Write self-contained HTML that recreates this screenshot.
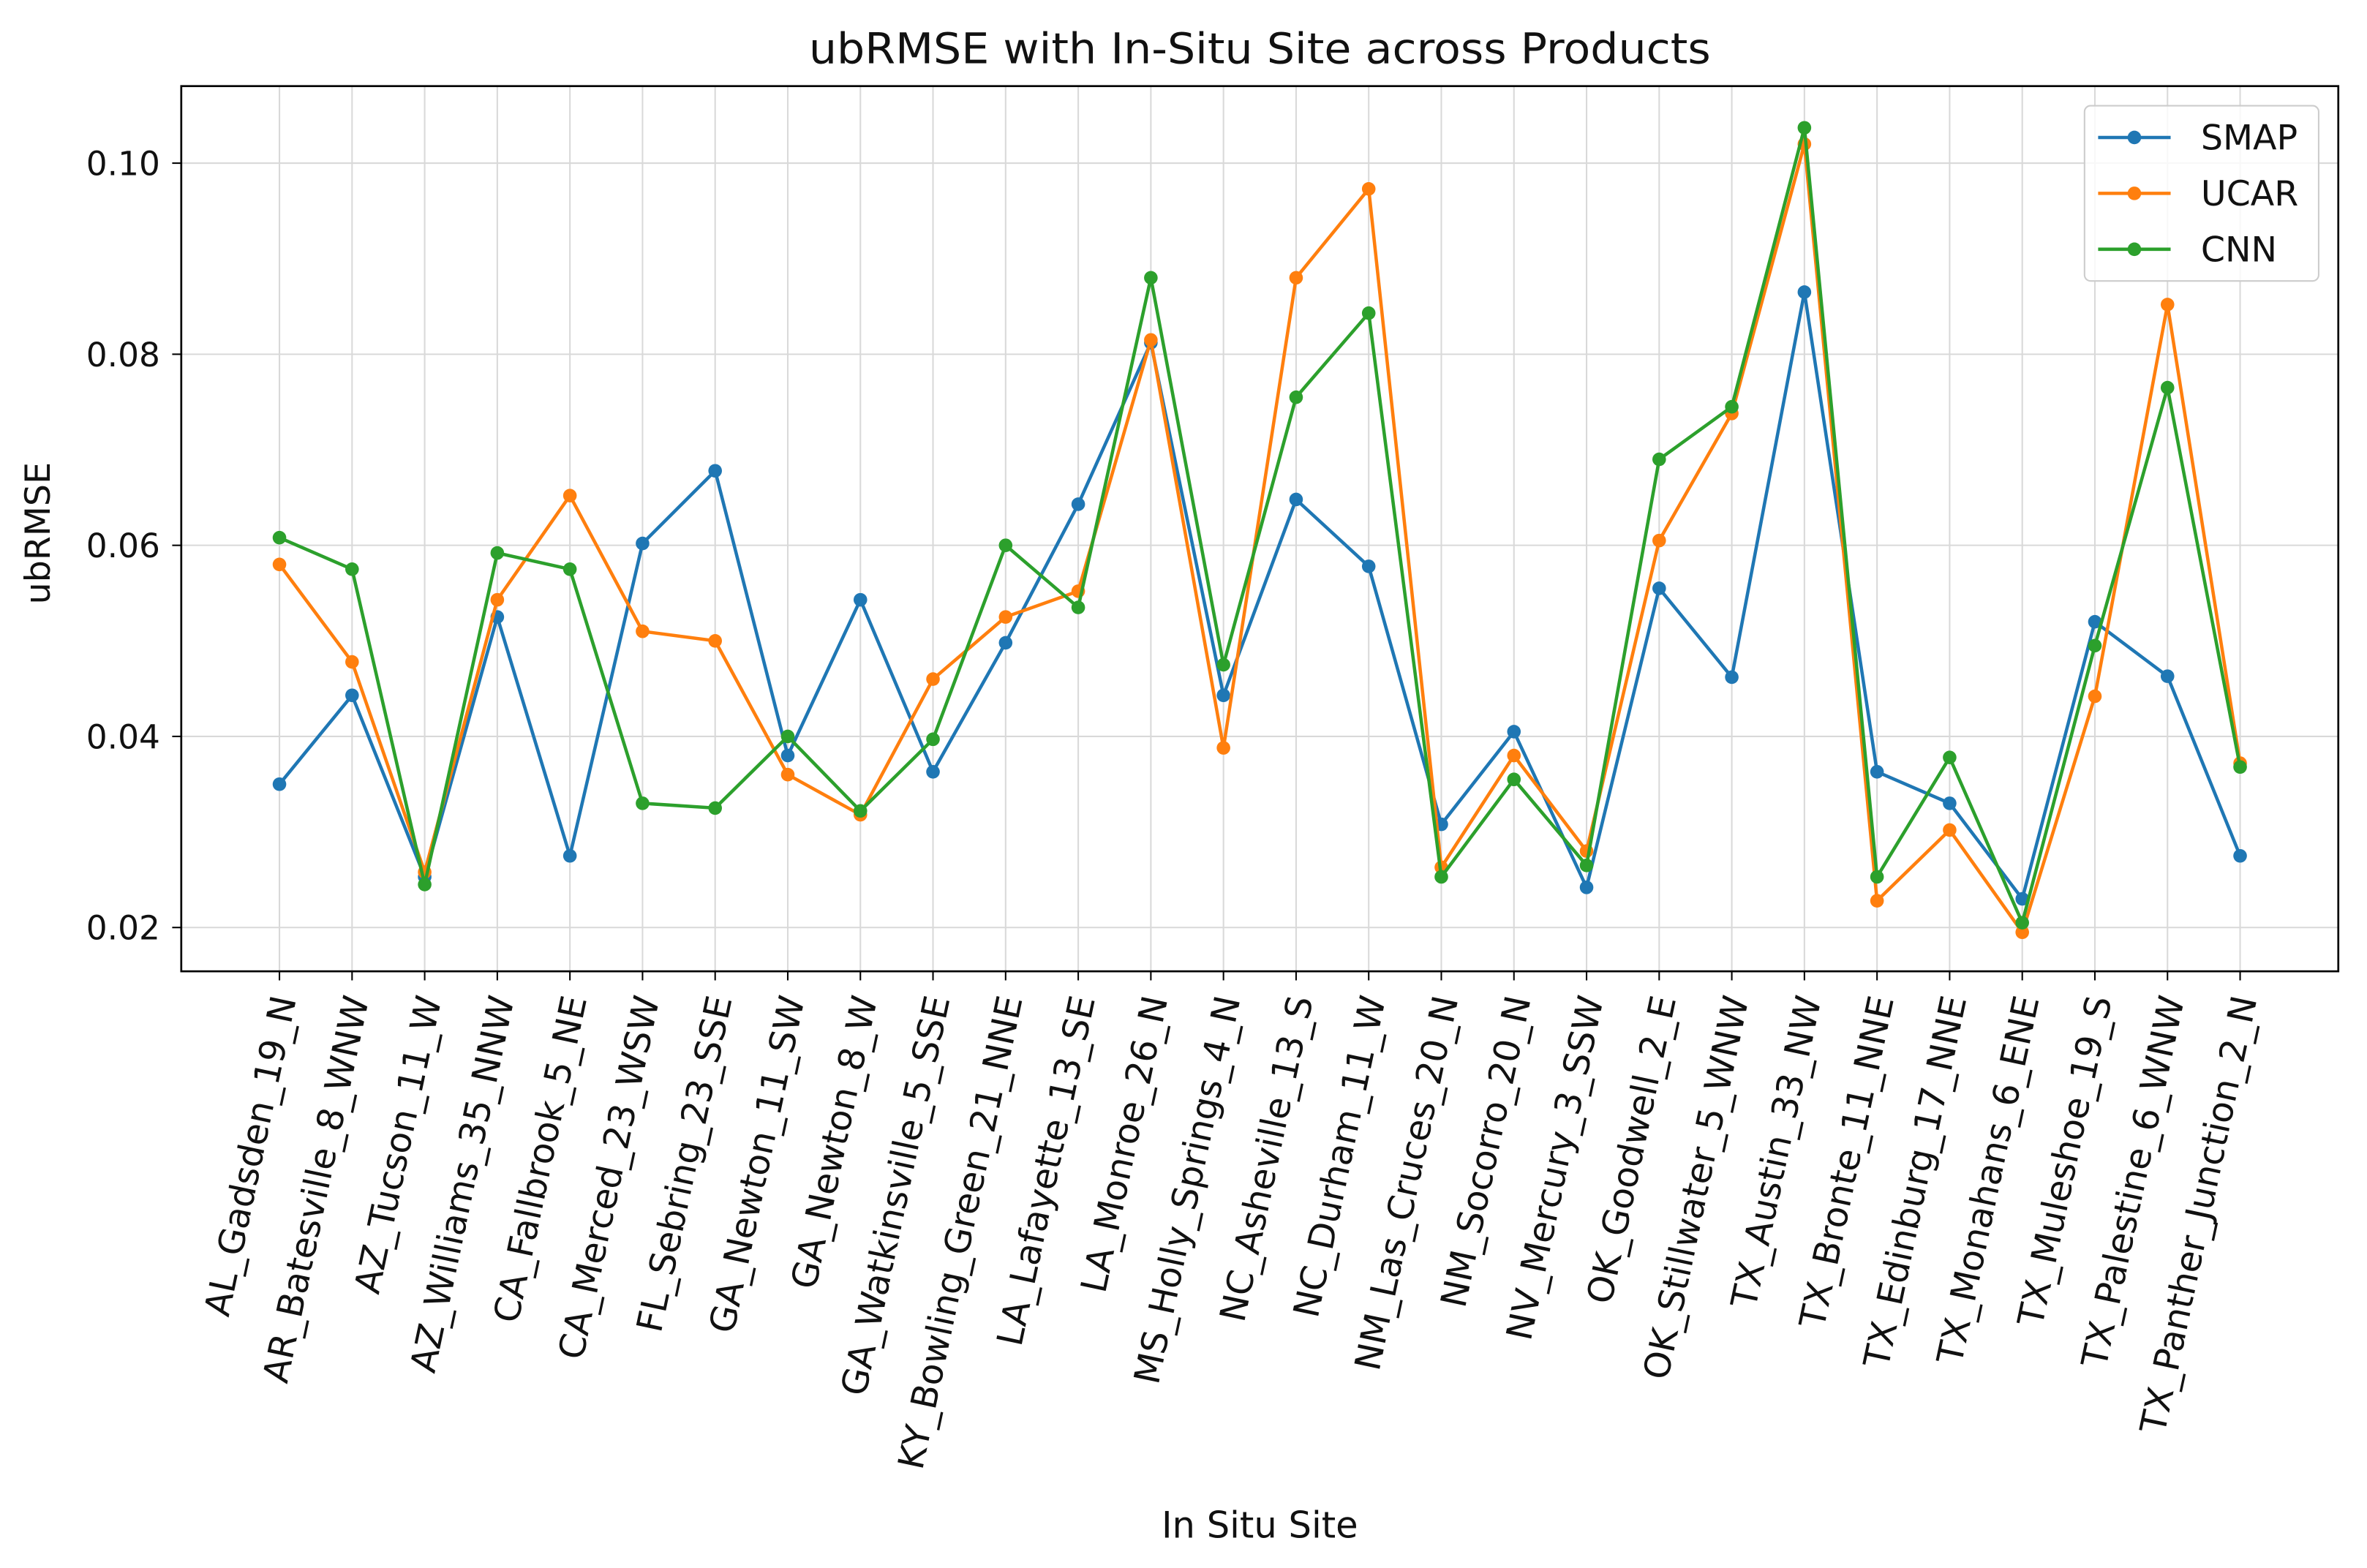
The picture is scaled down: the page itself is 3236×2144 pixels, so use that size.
<!DOCTYPE html>
<html><head><meta charset="utf-8"><style>
html,body{margin:0;padding:0;background:#fff}
svg{display:block;font-family:"DejaVu Sans","Liberation Sans",sans-serif}
</style></head><body>
<svg id="chart" width="3236" height="2144" viewBox="0 0 1567 1038" preserveAspectRatio="none" xmlns="http://www.w3.org/2000/svg">
<rect x="0" y="0" width="1567" height="1038" fill="#fff"/>
<text x="834" y="42" font-size="28" text-anchor="middle" fill="#111" textLength="597" lengthAdjust="spacingAndGlyphs">ubRMSE with In-Situ Site across Products</text>
<g id="grid"></g><g id="series"></g><g id="axes"></g>
<text transform="translate(33,353) rotate(-90)" font-size="23" text-anchor="middle" fill="#111">ubRMSE</text>
<text x="834" y="1018" font-size="24" text-anchor="middle" fill="#111">In Situ Site</text>
<g>
<rect x="1380" y="70" width="155" height="116" rx="4" fill="#fff" fill-opacity="0.8" stroke="#ccc"/>
<g id="legend"></g>
</g>
</svg>
<script>
const sites=["AL_Gadsden_19_N","AR_Batesville_8_WNW","AZ_Tucson_11_W","AZ_Williams_35_NNW","CA_Fallbrook_5_NE","CA_Merced_23_WSW","FL_Sebring_23_SSE","GA_Newton_11_SW","GA_Newton_8_W","GA_Watkinsville_5_SSE","KY_Bowling_Green_21_NNE","LA_Lafayette_13_SE","LA_Monroe_26_N","MS_Holly_Springs_4_N","NC_Asheville_13_S","NC_Durham_11_W","NM_Las_Cruces_20_N","NM_Socorro_20_N","NV_Mercury_3_SSW","OK_Goodwell_2_E","OK_Stillwater_5_WNW","TX_Austin_33_NW","TX_Bronte_11_NNE","TX_Edinburg_17_NNE","TX_Monahans_6_ENE","TX_Muleshoe_19_S","TX_Palestine_6_WNW","TX_Panther_Junction_2_N"];
const smap=[.035,.0443,.0253,.0525,.0275,.0602,.0678,.038,.0543,.0363,.0498,.0643,.0812,.0443,.0648,.0578,.0308,.0405,.0242,.0555,.0462,.0865,.0363,.033,.023,.052,.0463,.0275];
const ucar=[.058,.0478,.0258,.0543,.0652,.051,.05,.036,.0318,.046,.0525,.0552,.0815,.0388,.088,.0973,.0263,.038,.028,.0605,.0738,.102,.0228,.0302,.0195,.0442,.0852,.0372];
const cnn=[.0608,.0575,.0245,.0592,.0575,.033,.0325,.04,.0322,.0397,.06,.0535,.088,.0475,.0755,.0843,.0253,.0355,.0265,.069,.0745,.1037,.0253,.0378,.0205,.0495,.0765,.0368];
const yTicks=[0.02,0.04,0.06,0.08,0.10];
const seriesNames=["SMAP","UCAR","CNN"];
const NS="http://www.w3.org/2000/svg";
const L=120,R=1548,T=57,B=643;
function xs(i){return 185+i*(1483-185)/(sites.length-1);}
function ys(v){return 614-(v-0.02)/0.08*506;}
function mk(tag,attrs,parent){const e=document.createElementNS(NS,tag);for(const k in attrs)e.setAttribute(k,attrs[k]);parent.appendChild(e);return e;}
const grid=document.getElementById('grid'),axes=document.getElementById('axes'),ser=document.getElementById('series'),leg=document.getElementById('legend');
sites.forEach((s,i)=>{
 const g=mk('line',{x1:xs(i),x2:xs(i),y1:T,y2:B,stroke:'#d9d9d9','stroke-width':1},grid);
 
 
 mk('line',{x1:xs(i),x2:xs(i),y1:B,y2:B+6,stroke:'#000','stroke-width':1},axes);
 const t=mk('text',{transform:`translate(${xs(i)+5},${B+17}) rotate(-78)`,'font-size':23.5,'text-anchor':'end','dominant-baseline':'middle',fill:'#111'},axes);
 t.textContent=s;
 
 
});
yTicks.forEach(v=>{
 const g=mk('line',{x1:L,x2:R,y1:ys(v),y2:ys(v),stroke:'#d9d9d9','stroke-width':1},grid);
 
 
 mk('line',{x1:L-6,x2:L,y1:ys(v),y2:ys(v),stroke:'#000','stroke-width':1},axes);
 const t=mk('text',{x:L-14,y:ys(v)+8,'font-size':22,'text-anchor':'end',fill:'#111'},axes);
 t.textContent=v.toFixed(2);
 
 
});
const frame=mk('rect',{x:L,y:T,width:R-L,height:B-T,fill:'none',stroke:'#000','stroke-width':1.3},axes);


const colors=["#1f77b4","#ff7f0e","#2ca02c"];
[smap,ucar,cnn].forEach((d,k)=>{
 const g=mk('g',{},ser);
 
 
 mk('polyline',{points:d.map((v,i)=>xs(i)+','+ys(v)).join(' '),fill:'none',stroke:colors[k],'stroke-width':2.2,'stroke-linejoin':'round'},g);
 d.forEach((v,i)=>{const c=mk('circle',{cx:xs(i),cy:ys(v),r:4.5,fill:colors[k]},g);
  
  });
 const ly=91+k*37;
 const le=mk('g',{},leg);
 
 
 mk('line',{x1:1389,x2:1437,y1:ly,y2:ly,stroke:colors[k],'stroke-width':2.2},le);
 mk('circle',{cx:1413,cy:ly,r:4.5,fill:colors[k]},le);
 const t=mk('text',{x:1457,y:ly+8,'font-size':23,fill:'#111'},le);
 t.textContent=seriesNames[k];
});
</script>
</body></html>
